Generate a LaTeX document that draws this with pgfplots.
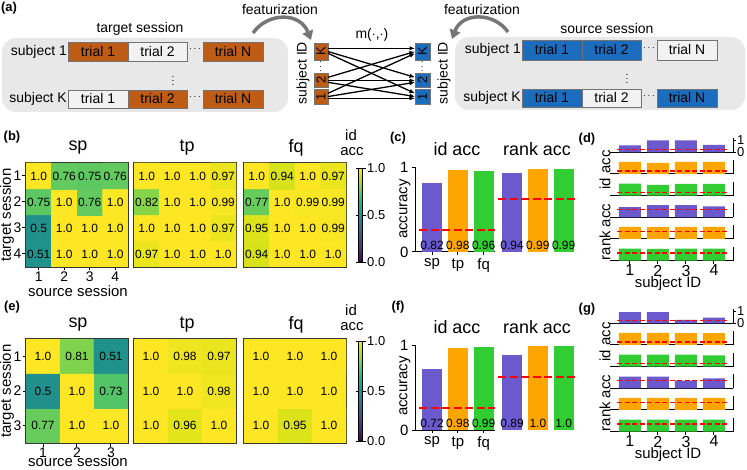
\documentclass[border=0pt]{standalone}
\usepackage{fontspec}
\setmainfont{Liberation Sans}
\usepackage{pgfplots}
\usepackage{pgfplotstable}
\pgfplotsset{compat=1.18}
\usetikzlibrary{arrows.meta}

\definecolor{spc}{RGB}{106,90,205}
\definecolor{tpc}{RGB}{255,165,0}
\definecolor{fqc}{RGB}{50,205,50}
\definecolor{tgt}{RGB}{190,92,22}
\definecolor{src}{RGB}{28,108,190}
\definecolor{bg}{RGB}{232,232,232}
\definecolor{frame}{RGB}{55,55,55}
\definecolor{arr}{RGB}{118,118,118}

\newcommand\fs[1]{\fontsize{#1}{#1}\selectfont}
% trial box: fill, x0, y0, x1, y1, text
\newcommand\tb[6]{%
  \filldraw[draw=black!55, line width=0.7bp, fill=#1] (#2,#3) rectangle (#4,#5);
  \node[font=\fs{14}] at ({(#2+#4)/2},{(#3+#5)/2}) {#6};}

\pgfplotsset{
  every axis/.append style={font=\fs{14}, tick label style={font=\fs{14}},
    /pgf/number format/assume math mode=true},
  heat/.style={
    scale only axis, width=102bp, height=104bp, anchor=south west,
    colormap/viridis, point meta min=0, point meta max=1,
    enlargelimits=false, xtick=\empty, ytick=\empty,
    axis line style={draw=frame, line width=1.2bp},
    tick align=outside, tick pos=left, major tick length=3.5bp,
    tick style={black, line width=1bp},
    yticklabel style={inner sep=1bp}, xticklabel style={inner sep=1.5bp},
  },
  celltext/.style={draw=none, nodes near coords, point meta=explicit symbolic,
    nodes near coords style={anchor=center, font=\fs{12}, inner sep=0pt}},
  cbar/.style={colorbar, colorbar style={
    at={(parent axis.east)}, anchor=west, xshift=4bp,
    scale only axis, width=4bp, height=#1,
    ytick={0,0.5,1}, yticklabels={0.0,0.5,1.0},
    yticklabel style={font=\fs{13}, inner sep=1.5bp},
    tick align=outside, major tick length=3bp,
    tick style={black, line width=0.8bp},
    axis line style={line width=0.8bp}}},
  accbars/.style={
    scale only axis, anchor=south west, width=80bp, height=85bp,
    xmin=-0.66, xmax=2.44, ymin=0, ymax=1.01, clip=false, bar width=20bp},
  barlabel/.style={draw=none, nodes near coords, point meta=explicit symbolic,
    nodes near coords style={anchor=center, font=\fs{12}, inner sep=0pt}},
  chance/.style={red, line width=2bp, dash pattern=on 8bp off 3.5bp},
  mini/.style={
    scale only axis, anchor=south west, width=123bp, height=14bp,
    xmin=0.29, xmax=4.68, ymin=0, ymax=1.15, clip=false,
    axis x line*=bottom, axis y line*=right, xtick=\empty, ytick=\empty,
    axis line style={line width=1bp}, tick align=outside, major tick length=3bp,
    tick style={black, line width=1bp}, bar width=22bp,
    yticklabel style={font=\fs{13}, inner sep=1bp},
    xticklabel style={font=\fs{16}, inner sep=1bp}},
  minibar/.style={ybar, bar shift=0pt, draw=none, fill=#1},
  minichance/.style={red, line width=1.5bp, dash pattern=on 5bp off 2.5bp},
}

% heatmaps, rows listed from the bottom row up (y = 1 is the last target session)
\pgfplotstableread{
x y c l
1 1 0.51 0.51
2 1 1.0 1.0
3 1 1.0 1.0
4 1 1.0 1.0
1 2 0.5 0.5
2 2 1.0 1.0
3 2 1.0 1.0
4 2 1.0 1.0
1 3 0.75 0.75
2 3 1.0 1.0
3 3 0.76 0.76
4 3 1.0 1.0
1 4 1.0 1.0
2 4 0.76 0.76
3 4 0.75 0.75
4 4 0.76 0.76
}\bsp
\pgfplotstableread{
x y c l
1 1 0.97 0.97
2 1 1.0 1.0
3 1 1.0 1.0
4 1 1.0 1.0
1 2 1.0 1.0
2 2 1.0 1.0
3 2 1.0 1.0
4 2 0.97 0.97
1 3 0.82 0.82
2 3 1.0 1.0
3 3 1.0 1.0
4 3 0.99 0.99
1 4 1.0 1.0
2 4 1.0 1.0
3 4 1.0 1.0
4 4 0.97 0.97
}\btp
\pgfplotstableread{
x y c l
1 1 0.94 0.94
2 1 1.0 1.0
3 1 1.0 1.0
4 1 1.0 1.0
1 2 0.95 0.95
2 2 1.0 1.0
3 2 1.0 1.0
4 2 0.99 0.99
1 3 0.77 0.77
2 3 1.0 1.0
3 3 0.99 0.99
4 3 0.99 0.99
1 4 1.0 1.0
2 4 0.94 0.94
3 4 1.0 1.0
4 4 0.97 0.97
}\bfq
\pgfplotstableread{
x y c l
1 1 0.77 0.77
2 1 1.0 1.0
3 1 1.0 1.0
1 2 0.5 0.5
2 2 1.0 1.0
3 2 0.73 0.73
1 3 1.0 1.0
2 3 0.81 0.81
3 3 0.51 0.51
}\esp
\pgfplotstableread{
x y c l
1 1 1.0 1.0
2 1 0.96 0.96
3 1 1.0 1.0
1 2 1.0 1.0
2 2 1.0 1.0
3 2 0.98 0.98
1 3 1.0 1.0
2 3 0.98 0.98
3 3 0.97 0.97
}\etp
\pgfplotstableread{
x y c l
1 1 1.0 1.0
2 1 0.95 0.95
3 1 1.0 1.0
1 2 1.0 1.0
2 2 1.0 1.0
3 2 1.0 1.0
1 3 1.0 1.0
2 3 1.0 1.0
3 3 1.0 1.0
}\efq

\begin{document}
\begin{tikzpicture}
\useasboundingbox (0,0) rectangle (747bp,470bp);

% ---------------- panel (a) and all free text, in image pixels
\begin{scope}[x=1bp, y=-1bp, yshift=470bp]
  \fill[bg, rounded corners=14bp] (2,38) rectangle (288,112);
  \fill[bg, rounded corners=14bp] (455,37) rectangle (745,110);
  \node[font=\fs{14}] at (140,29) {target session};
  \node[font=\fs{14}] at (607,29) {source session};

  \node[font=\fs{14}, anchor=east, inner sep=1bp] at (68,51.5) {subject 1};
  \node[font=\fs{14}, anchor=east, inner sep=1bp] at (68,99) {subject K};
  \tb{tgt}{68}{42}{128}{61}{trial 1}
  \tb{white!95!black}{128}{42}{187}{61}{trial 2}
  \tb{tgt}{203}{42}{263}{61}{trial N}
  \tb{white!95!black}{68}{90}{128}{108}{trial 1}
  \tb{tgt}{128}{90}{187}{108}{trial 2}
  \tb{tgt}{203}{90}{263}{108}{trial N}
  \node[inner sep=0pt] at (195,49) {$\cdots$};
  \node[inner sep=0pt] at (195,97) {$\cdots$};
  \node[inner sep=0pt] at (173,78) {$\vdots$};

  \node[font=\fs{14}, anchor=east, inner sep=1bp] at (522,50) {subject 1};
  \node[font=\fs{14}, anchor=east, inner sep=1bp] at (522,98) {subject K};
  \tb{src}{522}{40}{582}{60}{trial 1}
  \tb{src}{582}{40}{641}{60}{trial 2}
  \tb{white!95!black}{657}{40}{717}{60}{trial N}
  \tb{src}{522}{89}{582}{107}{trial 1}
  \tb{white!95!black}{582}{89}{641}{107}{trial 2}
  \tb{src}{657}{89}{717}{107}{trial N}
  \node[inner sep=0pt] at (649,48) {$\cdots$};
  \node[inner sep=0pt] at (649,96) {$\cdots$};
  \node[inner sep=0pt] at (627,76) {$\vdots$};

  % feature columns
  \foreach \ya/\yb/\t in {43/60/K, 73/87/2, 89/104/1} {
    \filldraw[draw=black!55, line width=0.7bp, fill=tgt] (314,\ya) rectangle (328,\yb);
    \node[rotate=90, font=\fs{13}] at (321,{(\ya+\yb)/2}) {\t};
    \filldraw[draw=black!55, line width=0.7bp, fill=src] (415,\ya) rectangle (430,\yb);
    \node[rotate=90, font=\fs{13}] at (422.5,{(\ya+\yb)/2}) {\t};
  }
  \node[rotate=90, inner sep=0pt] at (321,67) {$\cdots$};
  \node[rotate=90, inner sep=0pt] at (422.5,67) {$\cdots$};
  \node[rotate=90, font=\fs{14}] at (303,73) {subject ID};
  \node[rotate=90, font=\fs{14}] at (444,73) {subject ID};
  \foreach \a in {51,80,96} {
    \foreach \b in {51,80,96} {
      \draw[line width=1.3bp, -{Latex[length=5.5bp,width=4.5bp]}]
        (328,{\a+(\b-75)/9}) -- (415,{\b+(\a-75)/9});
    }
  }
  \node[font=\fs{14}] at (372,35) {m($\cdot$,$\cdot$)};
  \node[font=\fs{14}] at (280,10) {featurization};
  \node[font=\fs{14}] at (482,10) {featurization};
  \draw[arr, line width=3.5bp, -{Triangle[length=9bp,width=11bp]}]
    (253,33) .. controls (268,12) and (300,12) .. (311,40);
  \draw[arr, line width=3.5bp, -{Triangle[length=9bp,width=11bp]}]
    (508,32) .. controls (494,12) and (462,12) .. (452,39);

  % panel letters
  \foreach \p/\x/\y in {a/9/8, b/12/137, c/398/138, d/587/139, e/12/307, f/398/307, g/587/309}
    \node[font=\fs{13}\bfseries] at (\x,\y) {(\p)};

  % heatmap titles and labels
  \foreach \y in {148,325} {
    \node[font=\fs{18}] at (78,\y) {sp};
    \node[font=\fs{18}] at (187,\y) {tp};
    \node[font=\fs{18}] at (296,\y) {fq};
  }
  \node[font=\fs{15}] at (351,135) {id};
  \node[font=\fs{15}] at (352,152) {acc};
  \node[font=\fs{15}] at (351,310) {id};
  \node[font=\fs{15}] at (352,327) {acc};
  \node[font=\fs{15}, rotate=90] at (7,215) {target session};
  \node[font=\fs{15}, rotate=90] at (7,391) {target session};
  \node[font=\fs{15}] at (78,291) {source session};
  \node[font=\fs{15}, inner sep=1bp] at (78,461) {source session};

  % bar chart labels
  \node[font=\fs{15}, rotate=90] at (405,209) {accuracy};
  \node[font=\fs{15}, rotate=90] at (405,386) {accuracy};
  \node[font=\fs{18}] at (457,149) {id acc};
  \node[font=\fs{18}] at (537,149) {rank acc};
  \node[font=\fs{18}] at (457,327) {id acc};
  \node[font=\fs{18}] at (537,327) {rank acc};

  % per-subject labels
  \node[font=\fs{15}, rotate=90] at (605,170) {id acc};
  \node[font=\fs{15}, rotate=90] at (605,232) {rank acc};
  \node[font=\fs{15}, rotate=90] at (605,342) {id acc};
  \node[font=\fs{15}, rotate=90] at (605,403) {rank acc};
  \node[font=\fs{15}] at (668,284) {subject ID};
  \node[font=\fs{15}] at (668,455) {subject ID};
\end{scope}

% ---------------- (b) heatmaps
\begin{axis}[heat, at={(26bp,203bp)}, xmin=0.5, xmax=4.5, ymin=0.5, ymax=4.5,
  xtick={1,2,3,4}, xticklabels={1,2,3,4}, ytick={1,2,3,4}, yticklabels={4,3,2,1}]
  \addplot[matrix plot*, mesh/cols=4, point meta=explicit] table[meta=c]{\bsp};
  \addplot[celltext] table[meta=l]{\bsp};
\end{axis}
\begin{axis}[heat, at={(134bp,203bp)}, xmin=0.5, xmax=4.5, ymin=0.5, ymax=4.5]
  \addplot[matrix plot*, mesh/cols=4, point meta=explicit] table[meta=c]{\btp};
  \addplot[celltext] table[meta=l]{\btp};
\end{axis}
\begin{axis}[heat, at={(244bp,203bp)}, xmin=0.5, xmax=4.5, ymin=0.5, ymax=4.5, cbar=94bp]
  \addplot[matrix plot*, mesh/cols=4, point meta=explicit] table[meta=c]{\bfq};
  \addplot[celltext] table[meta=l]{\bfq};
\end{axis}

% ---------------- (e) heatmaps
\begin{axis}[heat, at={(26bp,27bp)}, xmin=0.5, xmax=3.5, ymin=0.5, ymax=3.5,
  xtick={1,2,3}, xticklabels={1,2,3}, ytick={1,2,3}, yticklabels={3,2,1}]
  \addplot[matrix plot*, mesh/cols=3, point meta=explicit] table[meta=c]{\esp};
  \addplot[celltext] table[meta=l]{\esp};
\end{axis}
\begin{axis}[heat, at={(134bp,27bp)}, xmin=0.5, xmax=3.5, ymin=0.5, ymax=3.5]
  \addplot[matrix plot*, mesh/cols=3, point meta=explicit] table[meta=c]{\etp};
  \addplot[celltext] table[meta=l]{\etp};
\end{axis}
\begin{axis}[heat, at={(244bp,27bp)}, xmin=0.5, xmax=3.5, ymin=0.5, ymax=3.5, cbar=100bp]
  \addplot[matrix plot*, mesh/cols=3, point meta=explicit] table[meta=c]{\efq};
  \addplot[celltext] table[meta=l]{\efq};
\end{axis}

% ---------------- (c) mean accuracy, spatial / temporal / frequency
\begin{axis}[accbars, at={(415bp,218bp)},
  axis x line*=bottom, axis y line*=left,
  xtick={0,1,2}, xticklabels={sp,tp,fq}, ytick={0,1}, yticklabels={0,1},
  xticklabel style={font=\fs{15}}, yticklabel style={font=\fs{15}},
  tick align=outside, major tick length=3bp, axis line style={line width=1bp},
  tick style={black, line width=1bp}]
  \addplot[ybar, bar shift=0pt, draw=none, fill=spc] coordinates {(0,0.82)};
  \addplot[ybar, bar shift=0pt, draw=none, fill=tpc] coordinates {(1,0.98)};
  \addplot[ybar, bar shift=0pt, draw=none, fill=fqc] coordinates {(2,0.96)};
  \addplot[chance] coordinates {(-0.5,0.26) (2.44,0.26)};
  \addplot[barlabel] table[meta=l]{
x y l
0 0.08 0.82
1 0.08 0.98
2 0.08 0.96
};
\end{axis}
\begin{axis}[accbars, at={(495bp,218bp)}, hide axis]
  \addplot[ybar, bar shift=0pt, draw=none, fill=spc] coordinates {(0,0.94)};
  \addplot[ybar, bar shift=0pt, draw=none, fill=tpc] coordinates {(1,0.99)};
  \addplot[ybar, bar shift=0pt, draw=none, fill=fqc] coordinates {(2,0.99)};
  \addplot[chance] coordinates {(-0.54,0.63) (2.48,0.63)};
  \addplot[barlabel] table[meta=l]{
x y l
0 0.08 0.94
1 0.08 0.99
2 0.08 0.99
};
\end{axis}

% ---------------- (f)
\begin{axis}[accbars, at={(415bp,40bp)},
  axis x line*=bottom, axis y line*=left,
  xtick={0,1,2}, xticklabels={sp,tp,fq}, ytick={0,1}, yticklabels={0,1},
  xticklabel style={font=\fs{15}}, yticklabel style={font=\fs{15}},
  tick align=outside, major tick length=3bp, axis line style={line width=1bp},
  tick style={black, line width=1bp}]
  \addplot[ybar, bar shift=0pt, draw=none, fill=spc] coordinates {(0,0.72)};
  \addplot[ybar, bar shift=0pt, draw=none, fill=tpc] coordinates {(1,0.98)};
  \addplot[ybar, bar shift=0pt, draw=none, fill=fqc] coordinates {(2,0.99)};
  \addplot[chance] coordinates {(-0.5,0.26) (2.44,0.26)};
  \addplot[barlabel] table[meta=l]{
x y l
0 0.08 0.72
1 0.08 0.98
2 0.08 0.99
};
\end{axis}
\begin{axis}[accbars, at={(495bp,40bp)}, hide axis]
  \addplot[ybar, bar shift=0pt, draw=none, fill=spc] coordinates {(0,0.89)};
  \addplot[ybar, bar shift=0pt, draw=none, fill=tpc] coordinates {(1,1.0)};
  \addplot[ybar, bar shift=0pt, draw=none, fill=fqc] coordinates {(2,1.0)};
  \addplot[chance] coordinates {(-0.54,0.63) (2.48,0.63)};
  \addplot[barlabel] table[meta=l]{
x y l
0 0.08 0.89
1 0.08 1.0
2 0.08 1.0
};
\end{axis}

% ---------------- (d) per-subject accuracy
\begin{axis}[mini, at={(610bp,317.7bp)}, ytick={0,1}, yticklabels={0,1}]
  \addplot[minibar=spc] coordinates {(1,0.56) (2,0.97) (3,0.97) (4,0.61)};
  \addplot[minichance] coordinates {(0.54,0.25) (4.5,0.25)};
\end{axis}
\begin{axis}[mini, at={(610bp,296bp)}]
  \addplot[minibar=tpc] coordinates {(1,1.0) (2,0.92) (3,0.99) (4,0.99)};
  \addplot[minichance] coordinates {(0.54,0.25) (4.5,0.25)};
\end{axis}
\begin{axis}[mini, at={(610bp,274.3bp)}]
  \addplot[minibar=fqc] coordinates {(1,1.0) (2,0.88) (3,0.98) (4,0.98)};
  \addplot[minichance] coordinates {(0.54,0.25) (4.5,0.25)};
\end{axis}
\begin{axis}[mini, at={(610bp,252.7bp)}]
  \addplot[minibar=spc] coordinates {(1,0.83) (2,1.0) (3,1.0) (4,0.89)};
  \addplot[minichance] coordinates {(0.54,0.625) (4.5,0.625)};
\end{axis}
\begin{axis}[mini, at={(610bp,231bp)}]
  \addplot[minibar=tpc] coordinates {(1,1.0) (2,0.98) (3,1.0) (4,0.99)};
  \addplot[minichance] coordinates {(0.54,0.625) (4.5,0.625)};
\end{axis}
\begin{axis}[mini, at={(610bp,209.3bp)}, xtick={1,2,3,4}, xticklabels={1,2,3,4}]
  \addplot[minibar=fqc] coordinates {(1,1.0) (2,0.97) (3,1.0) (4,1.0)};
  \addplot[minichance] coordinates {(0.54,0.625) (4.5,0.625)};
\end{axis}

% ---------------- (g)
\begin{axis}[mini, at={(610bp,146.7bp)}, ytick={0,1}, yticklabels={0,1}]
  \addplot[minibar=spc] coordinates {(1,0.92) (2,0.92) (3,0.28) (4,0.47)};
  \addplot[minichance] coordinates {(0.54,0.25) (4.5,0.25)};
\end{axis}
\begin{axis}[mini, at={(610bp,125bp)}]
  \addplot[minibar=tpc] coordinates {(1,1.0) (2,1.0) (3,0.97) (4,0.97)};
  \addplot[minichance] coordinates {(0.54,0.25) (4.5,0.25)};
\end{axis}
\begin{axis}[mini, at={(610bp,103.3bp)}]
  \addplot[minibar=fqc] coordinates {(1,1.0) (2,1.0) (3,1.0) (4,0.94)};
  \addplot[minichance] coordinates {(0.54,0.25) (4.5,0.25)};
\end{axis}
\begin{axis}[mini, at={(610bp,81.7bp)}]
  \addplot[minibar=spc] coordinates {(1,0.96) (2,0.96) (3,0.63) (4,0.82)};
  \addplot[minichance] coordinates {(0.54,0.625) (4.5,0.625)};
\end{axis}
\begin{axis}[mini, at={(610bp,60bp)}]
  \addplot[minibar=tpc] coordinates {(1,1.0) (2,1.0) (3,1.0) (4,1.0)};
  \addplot[minichance] coordinates {(0.54,0.625) (4.5,0.625)};
\end{axis}
\begin{axis}[mini, at={(610bp,38.3bp)}, xtick={1,2,3,4}, xticklabels={1,2,3,4}]
  \addplot[minibar=fqc] coordinates {(1,1.0) (2,1.0) (3,1.0) (4,1.0)};
  \addplot[minichance] coordinates {(0.54,0.625) (4.5,0.625)};
\end{axis}
\end{tikzpicture}
\end{document}
